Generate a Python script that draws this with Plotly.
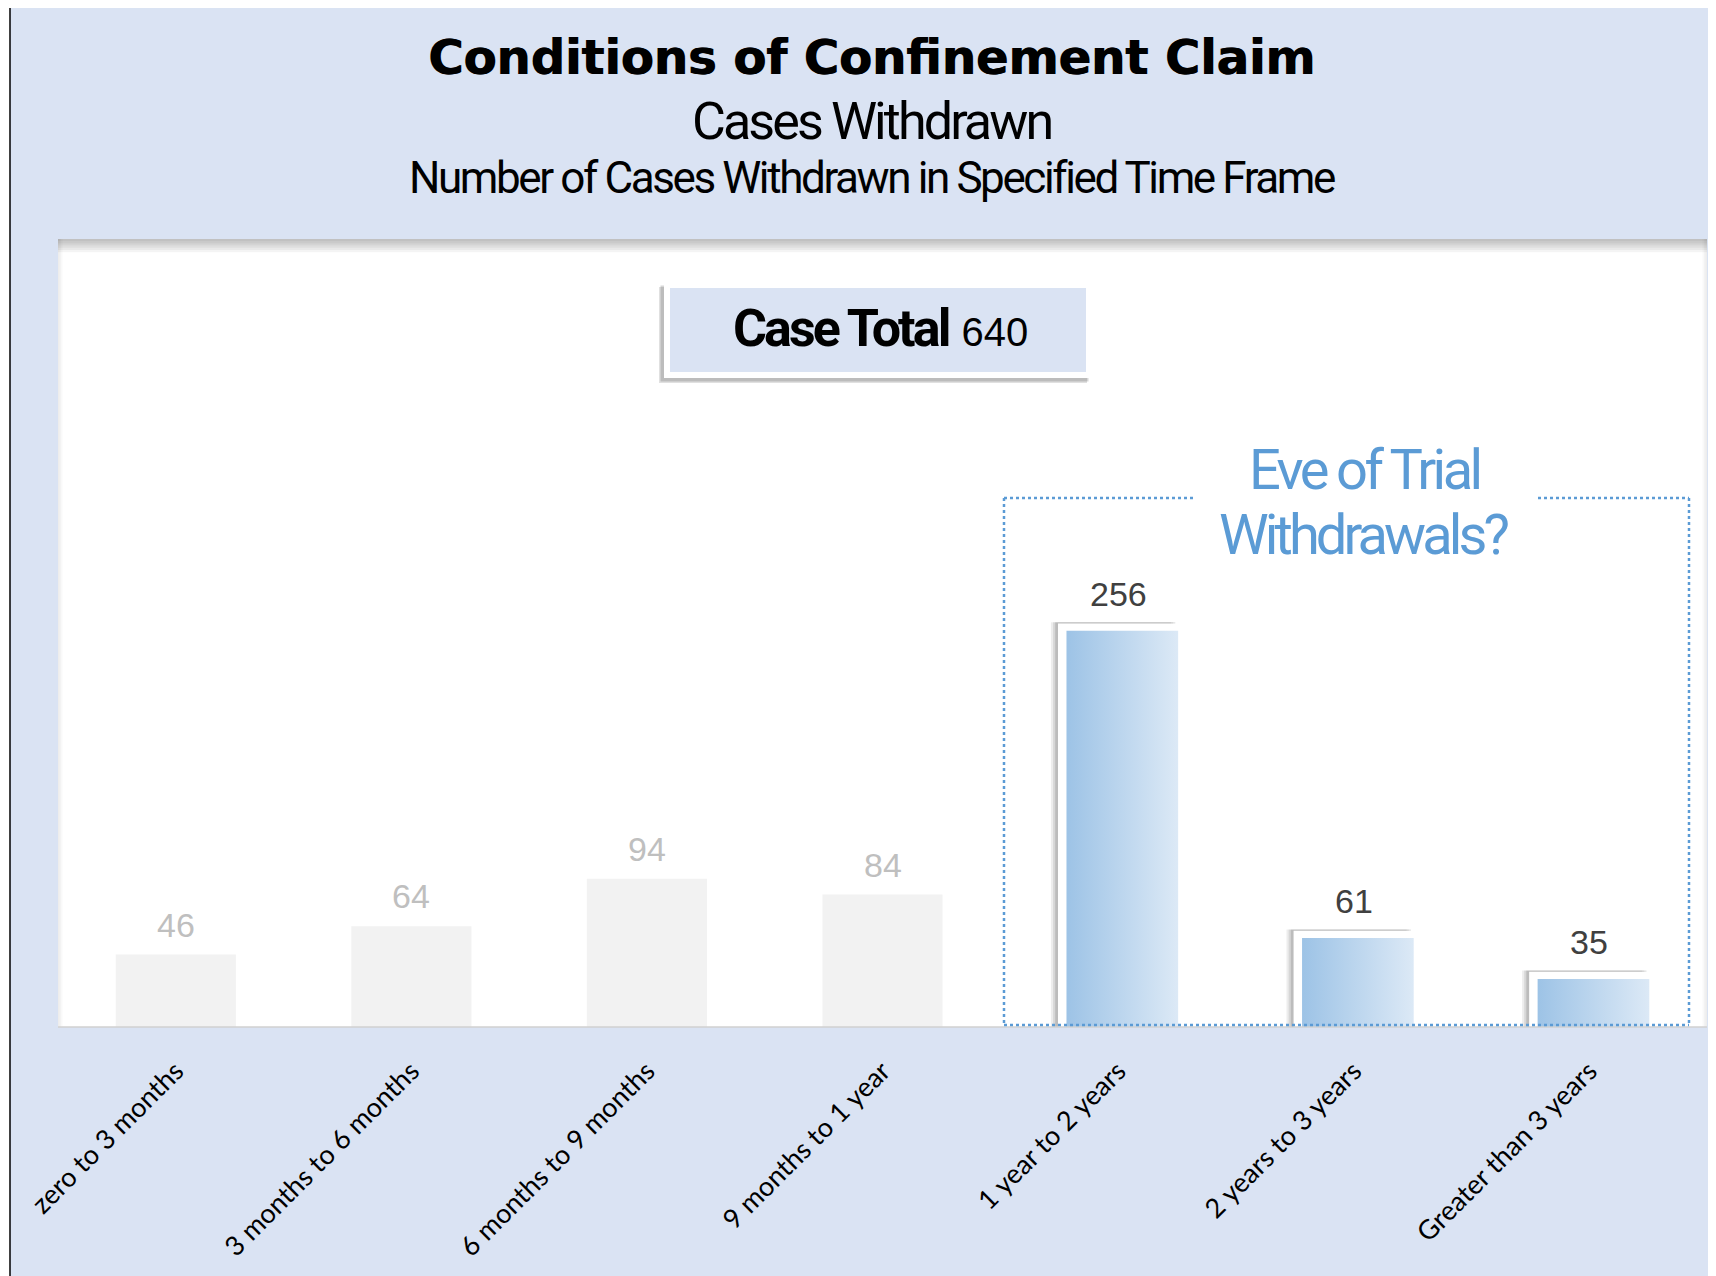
import plotly.graph_objects as go

categories = [
    "zero to 3 months",
    "3 months to 6 months",
    "6 months to 9 months",
    "9 months to 1 year",
    "1 year to 2 years",
    "2 years to 3 years",
    "Greater than 3 years",
]
cases = [46, 64, 94, 84, 256, 61, 35]
eve_of_trial = [False, False, False, False, True, True, True]

title = "Conditions of Confinement Claim"
subtitle = "Cases Withdrawn"
subtitle2 = "Number of Cases Withdrawn in Specified Time Frame"
callout = ["Eve of Trial", "Withdrawals?"]

# the page puts the plot 8px in from the corner, so work in page pixels
OFF = 8
W, H = 1716 - OFF, 1276 - OFF
PX0, PX1, PY0, PY1 = 58, 1707, 239, 1027

BG = "#DAE3F3"
BLUE = "#5B9BD5"
COND = "Roboto, Liberation Sans, sans-serif"
ARIAL = "Liberation Sans, Arial, sans-serif"


def px(x):
    return (x - PX0) / (PX1 - PX0)


def py(y):
    return (PY1 - y) / (PY1 - PY0)


def tight(text, ls):
    return f"<span style='letter-spacing:{ls}px'>{text}</span>"


pos = list(range(len(categories)))
bw = 0.51
hl_x = [p for p, f in zip(pos, eve_of_trial) if f]
hl_y = [v for v, f in zip(cases, eve_of_trial) if f]

fig = go.Figure()

# soft shadow on the highlighted bars
for k, a in [(0.030, 0.07), (0.021, 0.09), (0.012, 0.12)]:
    fig.add_trace(
        go.Bar(
            x=hl_x,
            y=[v + 0.8 for v in hl_y],
            width=bw,
            offset=-bw / 2 - k,
            marker=dict(color=f"rgba(0,0,0,{a})", line=dict(width=0)),
            hoverinfo="skip",
            showlegend=False,
        )
    )

fig.add_trace(
    go.Bar(
        x=pos,
        y=cases,
        width=bw,
        marker=dict(
            color=["#FFFFFF" if f else "#F2F2F2" for f in eve_of_trial],
            line=dict(width=0),
        ),
        showlegend=False,
    )
)

# gradient fill inside the highlighted bars
for x, v in zip(hl_x, hl_y):
    x0, x1 = x - bw / 2 + 0.036, x + bw / 2
    top = v - 4.5
    fig.add_trace(
        go.Scatter(
            x=[x0, x1, x1, x0, x0],
            y=[0, 0, top, top, 0],
            mode="lines",
            fill="toself",
            fillgradient=dict(
                type="horizontal",
                colorscale=[[0, "#9DC3E6"], [1, "#DCE9F6"]],
            ),
            line=dict(width=0),
            hoverinfo="skip",
            showlegend=False,
        )
    )

annotations = []
for x, v, f in zip(pos, cases, eve_of_trial):
    annotations.append(
        dict(
            x=x, y=v, xref="x", yref="y", text=str(v), showarrow=False,
            yanchor="bottom", yshift=9,
            font=dict(family=ARIAL, size=34, color="#404040" if f else "#BFBFBF"),
        )
    )

annotations += [
    dict(x=px(871), y=py(57), text=f"<b>{title}</b>",
         font=dict(family="DejaVu Sans", size=48, color="#000000", shadow="0.9px 0px 0px #000")),
    dict(x=px(871), y=py(121), text=tight(subtitle, -2.9),
         font=dict(family=COND, size=52, color="#000000")),
    dict(x=px(872), y=py(178), text=tight(subtitle2, -2.4),
         font=dict(family=COND, size=44, color="#000000")),
    dict(x=px(880), y=py(329),
         text=tight("<b>Case Total</b>", -2.9)
         + f" <span style='font-family:Liberation Sans;font-size:40px'>{sum(cases)}</span>",
         font=dict(family=COND, size=52, color="#000000")),
    dict(x=px(1364), y=py(470), text=tight(callout[0], -3.6),
         font=dict(family=COND, size=56, color=BLUE)),
    dict(x=px(1364), y=py(535), text=tight(callout[1], -3.9),
         font=dict(family=COND, size=56, color=BLUE)),
]
for a in annotations[len(pos):]:
    a.update(xref="paper", yref="paper", showarrow=False, xanchor="center", yanchor="middle")

shapes = []
# outer frame (only the left edge falls inside the figure)
shapes.append(dict(type="rect", x0=px(0), x1=px(10), y0=py(0), y1=py(1300),
                   fillcolor="white", line=dict(width=0)))
shapes.append(dict(type="line", x0=px(10), x1=px(10), y0=py(0), y1=py(1300),
                   line=dict(color="black", width=1.5)))

# plot area shadow
for k in range(1, 7):
    shapes.append(dict(type="rect", x0=px(PX0), x1=px(PX1), y0=py(PY0), y1=py(PY0 + 2.2 * k),
                       fillcolor="rgba(0,0,0,0.045)", line=dict(width=0), layer="above"))
for k in range(1, 4):
    shapes.append(dict(type="rect", x0=px(PX0), x1=px(PX0 + 1.5 * k), y0=py(PY0), y1=py(PY1),
                       fillcolor="rgba(0,0,0,0.025)", line=dict(width=0)))
    shapes.append(dict(type="rect", x0=px(PX1 - 1.5 * k), x1=px(PX1), y0=py(PY0), y1=py(PY1),
                       fillcolor="rgba(0,0,0,0.025)", line=dict(width=0)))
shapes.append(dict(type="line", x0=px(PX0), x1=px(PX1), y0=py(PY1), y1=py(PY1),
                   line=dict(color="#D0D0D0", width=1.5)))

# case total box
for k, a in [(5, 0.12), (3.5, 0.16)]:
    shapes.append(dict(type="rect", x0=px(664 - k), x1=px(1092 - k), y0=py(282 + k), y1=py(378 + k),
                       fillcolor=f"rgba(0,0,0,{a})", line=dict(width=0), layer="above"))
shapes.append(dict(type="rect", x0=px(667), x1=px(1089), y0=py(285), y1=py(375),
                   fillcolor=BG, line=dict(color="white", width=6), layer="above"))

# dotted callout frame
dot = dict(color=BLUE, width=2.5, dash="dot")
bx0, bx1, by0, by1 = 1004, 1689, 498, 1025
for seg in [
    (bx0, by0, bx0, by1),
    (bx1, by0, bx1, by1),
    (bx0, by1, bx1, by1),
    (bx0, by0, 1193, by0),
    (1538, by0, bx1, by0),
]:
    shapes.append(dict(type="line", x0=px(seg[0]), y0=py(seg[1]), x1=px(seg[2]), y1=py(seg[3]),
                       line=dot, layer="above"))

for s in shapes:
    s.update(xref="paper", yref="paper")

fig.update_layout(
    width=W,
    height=H,
    margin=dict(l=PX0 - OFF, r=W - (PX1 - OFF), t=PY0 - OFF, b=H - (PY1 - OFF)),
    paper_bgcolor=BG,
    plot_bgcolor="white",
    barmode="overlay",
    showlegend=False,
    annotations=annotations,
    shapes=shapes,
)
fig.update_xaxes(
    range=[-0.5, len(categories) - 0.5],
    tickvals=pos,
    ticktext=categories,
    tickangle=-45,
    ticks="",
    ticklabelstandoff=22,
    tickfont=dict(family="Lato", size=27, color="#000000"),
    showgrid=False,
    zeroline=False,
    showline=False,
    fixedrange=True,
)
fig.update_yaxes(range=[0, 500], visible=False, showgrid=False, zeroline=False, fixedrange=True)

fig.write_html("out.html")
